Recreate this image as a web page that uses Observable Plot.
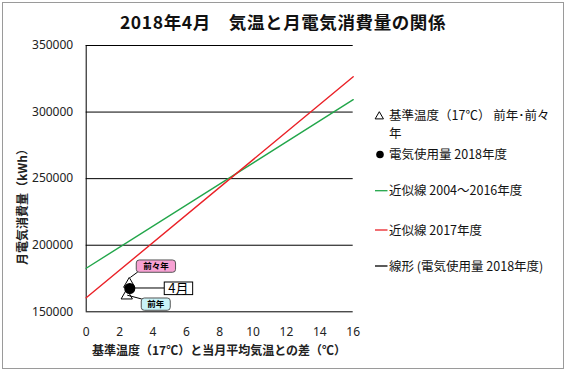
<!DOCTYPE html>
<html><head><meta charset="utf-8">
<script src="https://cdn.jsdelivr.net/npm/d3@7"></script>
<script src="https://cdn.jsdelivr.net/npm/@observablehq/plot@0.6"></script>
<style>
html,body{margin:0;padding:0;background:#fff;}
#wrap{position:relative;width:566px;height:371px;overflow:hidden;}
</style></head><body><div id="wrap"></div>
<script>
// ---- data ----
const titleText = "2018年4月\u3000気温と月電気消費量の関係";
const xLabel = "基準温度（17℃）と当月平均気温との差（℃）";
const yLabel = "月電気消費量（kWh）";
const xTicks = [0, 2, 4, 6, 8, 10, 12, 14, 16];
const yTicks = [150000, 200000, 250000, 300000, 350000];

const trendX = [0, 16];
const trend0416Y = [182700, 309300];   // 近似線 2004～2016年度
const trend2017Y = [160500, 326500];   // 近似線 2017年度

const usageX = [2.61];                 // 電気使用量 2018年度
const usageY = [167500];
const usageLabels = ["4月"];

const baseX = [2.43, 2.58];            // 基準温度 前年・前々年
const baseY = [162100, 170900];
const baseLabels = ["前年", "前々年"];

const legendLabels = [
  ["基準温度（17℃） 前年･前々", "年"],
  ["電気使用量 2018年度"],
  ["近似線 2004～2016年度"],
  ["近似線 2017年度"],
  ["線形 (電気使用量 2018年度)"]
];

// ---- build tables ----
const green = trendX.map((x, i) => ({x, y: trend0416Y[i]}));
const red = trendX.map((x, i) => ({x, y: trend2017Y[i]}));
const usage = usageX.map((x, i) => ({x, y: usageY[i], label: usageLabels[i]}));
const base = baseX.map((x, i) => ({x, y: baseY[i], label: baseLabels[i]}));

const GREEN = "#22a64a", RED = "#ea2127";
const W = 566, H = 371;

const chart = Plot.plot({
  width: W, height: H,
  marginLeft: 85.7, marginRight: W - 352.7, marginTop: 45, marginBottom: H - 311.3,
  style: {fontFamily: "'Noto Sans', 'Noto Sans CJK JP', sans-serif", fontSize: "12px", color: "#222", background: "transparent"},
  x: {domain: [0, 16]},
  y: {domain: [150000, 350000]},
  marks: [
    Plot.ruleY(yTicks, {stroke: "#000", strokeWidth: 1}),
    Plot.ruleX([0], {stroke: "#000", strokeWidth: 1}),
    Plot.line(green, {x: "x", y: "y", stroke: GREEN, strokeWidth: 1.4}),
    Plot.line(red, {x: "x", y: "y", stroke: RED, strokeWidth: 1.4}),
    Plot.dot(base, {x: "x", y: "y", symbol: "triangle", r: 4.2, fill: "#fff", stroke: "#000", strokeWidth: 1}),
    Plot.dot(usage, {x: "x", y: "y", r: 4.8, fill: "#000", stroke: "#000"}),
    Plot.axisX({ticks: xTicks, tickSize: 0, tickPadding: 15.4, label: null}),
    Plot.axisY({ticks: yTicks, tickSize: 0, tickPadding: 13, tickFormat: d3.format("d"), label: null})
  ]
});

const wrap = document.getElementById("wrap");
wrap.appendChild(chart);
const svg = d3.select(chart);
const sx = chart.scale("x"), sy = chart.scale("y");
const X = v => sx.apply(v), Y = v => sy.apply(v);

// outer border
svg.insert("rect", ":first-child").attr("x", 2.5).attr("y", 2.5).attr("width", 561).attr("height", 366)
  .attr("fill", "#fff").attr("stroke", "#9a9a9a").attr("stroke-width", 1);

const cjk = "'Noto Sans CJK JP', 'Noto Sans', sans-serif";

// title
svg.append("text").attr("x", 283).attr("y", 22.5).attr("dy", "0.35em").attr("text-anchor", "middle")
  .attr("font-family", cjk).attr("font-weight", "bold").attr("font-size", 17.5).attr("letter-spacing", 0.6).attr("fill", "#111")
  .text(titleText);

// axis labels
svg.append("text").attr("x", 219).attr("y", 351).attr("dy", "0.35em").attr("text-anchor", "middle")
  .attr("font-family", cjk).attr("font-weight", "bold").attr("font-size", 12).attr("fill", "#222")
  .text(xLabel);
svg.append("text").attr("transform", "translate(23,204) rotate(-90)").attr("dy", "0.35em").attr("text-anchor", "middle")
  .attr("font-family", cjk).attr("font-weight", "bold").attr("font-size", 12).attr("fill", "#222")
  .text(yLabel);

// callouts
function callout(px, py, fromDx, fromDy, box, fill, stroke, rx, fs, weight, text) {
  const g = svg.append("g");
  g.append("line").attr("x1", px + fromDx).attr("y1", py + fromDy)
    .attr("x2", box.lx).attr("y2", box.ly).attr("stroke", "#000").attr("stroke-width", 1);
  g.append("rect").attr("x", box.x).attr("y", box.y).attr("width", box.w).attr("height", box.h)
    .attr("rx", rx).attr("fill", fill).attr("stroke", stroke).attr("stroke-width", 1);
  g.append("text").attr("x", box.x + box.w / 2).attr("y", box.y + box.h / 2).attr("dy", "0.36em")
    .attr("text-anchor", "middle").attr("font-family", cjk).attr("font-weight", weight)
    .attr("font-size", fs).attr("fill", "#000").text(text);
}
// 前々年
{
  const px = X(base[1].x), py = Y(base[1].y);
  const bx = px + 7.5, by = py - 23.5;
  callout(px, py, 1.5, -6, {x: bx, y: by, w: 39.3, h: 12.3, lx: bx + 1.5, ly: by + 12}, "#f7a1d3", "#555", 3, 8.5, "bold", base[1].label);
}
// 4月
{
  const px = X(usage[0].x), py = Y(usage[0].y);
  const bx = px + 35, by = py - 6;
  callout(px, py, 0, 0, {x: bx, y: by, w: 28.4, h: 12.6, lx: bx, ly: by + 6}, "#fff", "#000", 0, 13, "normal", usage[0].label);
}
// 前年
{
  const px = X(base[0].x), py = Y(base[0].y);
  const bx = px + 15, by = py + 2.8;
  callout(px, py, 1, 0, {x: bx, y: by, w: 29, h: 12.3, lx: bx + 0.5, ly: by + 1}, "#c9f3f8", "#555", 3, 8.5, "bold", base[0].label);
}

// legend
const lg = svg.append("g").attr("font-family", cjk).attr("font-size", 12.5).attr("fill", "#111").attr("text-anchor", "start");
const tx = 389;
// triangle
lg.append("path").attr("d", d3.symbol(d3.symbolTriangle, 30)()).attr("transform", "translate(379.3,116.5)")
  .attr("fill", "#fff").attr("stroke", "#000").attr("stroke-width", 1);
lg.append("text").attr("x", tx).attr("y", 115).attr("dy", "0.36em").text(legendLabels[0][0]);
lg.append("text").attr("x", tx).attr("y", 133.8).attr("dy", "0.36em").text(legendLabels[0][1]);
// circle
lg.append("circle").attr("cx", 380).attr("cy", 154.5).attr("r", 3.8).attr("fill", "#000");
lg.append("text").attr("x", tx).attr("y", 154.5).attr("dy", "0.36em").text(legendLabels[1][0]);
// lines
[[GREEN, 190.7, 2], [RED, 230, 3], ["#000", 266, 4]].forEach(([c, y, i]) => {
  lg.append("line").attr("x1", 375).attr("x2", 387.5).attr("y1", y).attr("y2", y).attr("stroke", c).attr("stroke-width", 1.3);
  lg.append("text").attr("x", tx).attr("y", y).attr("dy", "0.36em").text(legendLabels[i][0]);
});
</script></body></html>
